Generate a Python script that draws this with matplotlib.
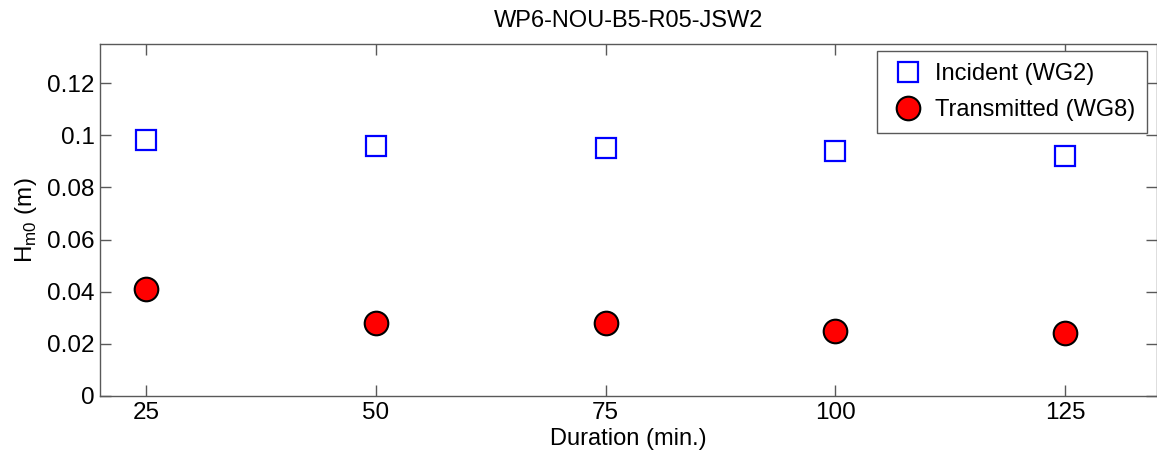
import numpy as np
import matplotlib
matplotlib.use("Agg")
import matplotlib.pyplot as plt
from matplotlib.ticker import FuncFormatter

# data
duration = [25, 50, 75, 100, 125]
incident = [0.098, 0.096, 0.095, 0.094, 0.092]
transmitted = [0.041, 0.028, 0.028, 0.025, 0.024]

plt.rcParams['font.family'] = ['Liberation Sans', 'DejaVu Sans']

W, H = 1157, 454
fig = plt.figure(figsize=(W / 100, H / 100), dpi=100)
ax = fig.add_axes([100 / W, 58 / H, 1 - 100 / W, 352 / H])

ax.plot(duration, incident, linestyle='none', marker='s', markersize=14,
        markerfacecolor='none', markeredgecolor='#0000ff', markeredgewidth=1.6,
        label='Incident (WG2)')
ax.plot(duration, transmitted, linestyle='none', marker='o', markersize=17,
        markerfacecolor='#ff0000', markeredgecolor='black', markeredgewidth=1.5,
        label='Transmitted (WG8)')

ax.set_xlim(20, 135)
ax.set_ylim(0, 0.135)
ax.set_xticks(duration)
ax.set_yticks(np.arange(0, 0.121, 0.02))
ax.yaxis.set_major_formatter(FuncFormatter(lambda v, p: '%g' % round(v, 3)))

for s in ax.spines.values():
    s.set_color('0.35')
    s.set_linewidth(1.0)
ax.tick_params(direction='in', length=8, width=1, color='0.35',
               top=True, right=True, labelsize=17.5, labelcolor='black', pad=4)

ax.set_title('WP6-NOU-B5-R05-JSW2', fontsize=17, pad=12)
ax.set_xlabel('Duration (min.)', fontsize=17, labelpad=3)
ax.set_ylabel('H$_{\\mathregular{m0}}$ (m)', fontsize=17.5, labelpad=6)

leg = ax.legend(loc='upper right', bbox_to_anchor=(1147 / W, 1 - 51 / H),
                bbox_transform=fig.transFigure, fontsize=17, fancybox=False,
                framealpha=1, edgecolor='0.35', borderpad=0.5,
                borderaxespad=0, handletextpad=0.35, labelspacing=0.62,
                handlelength=1.6)
leg.get_frame().set_linewidth(1.0)

fig.savefig('out.png', dpi=100)
